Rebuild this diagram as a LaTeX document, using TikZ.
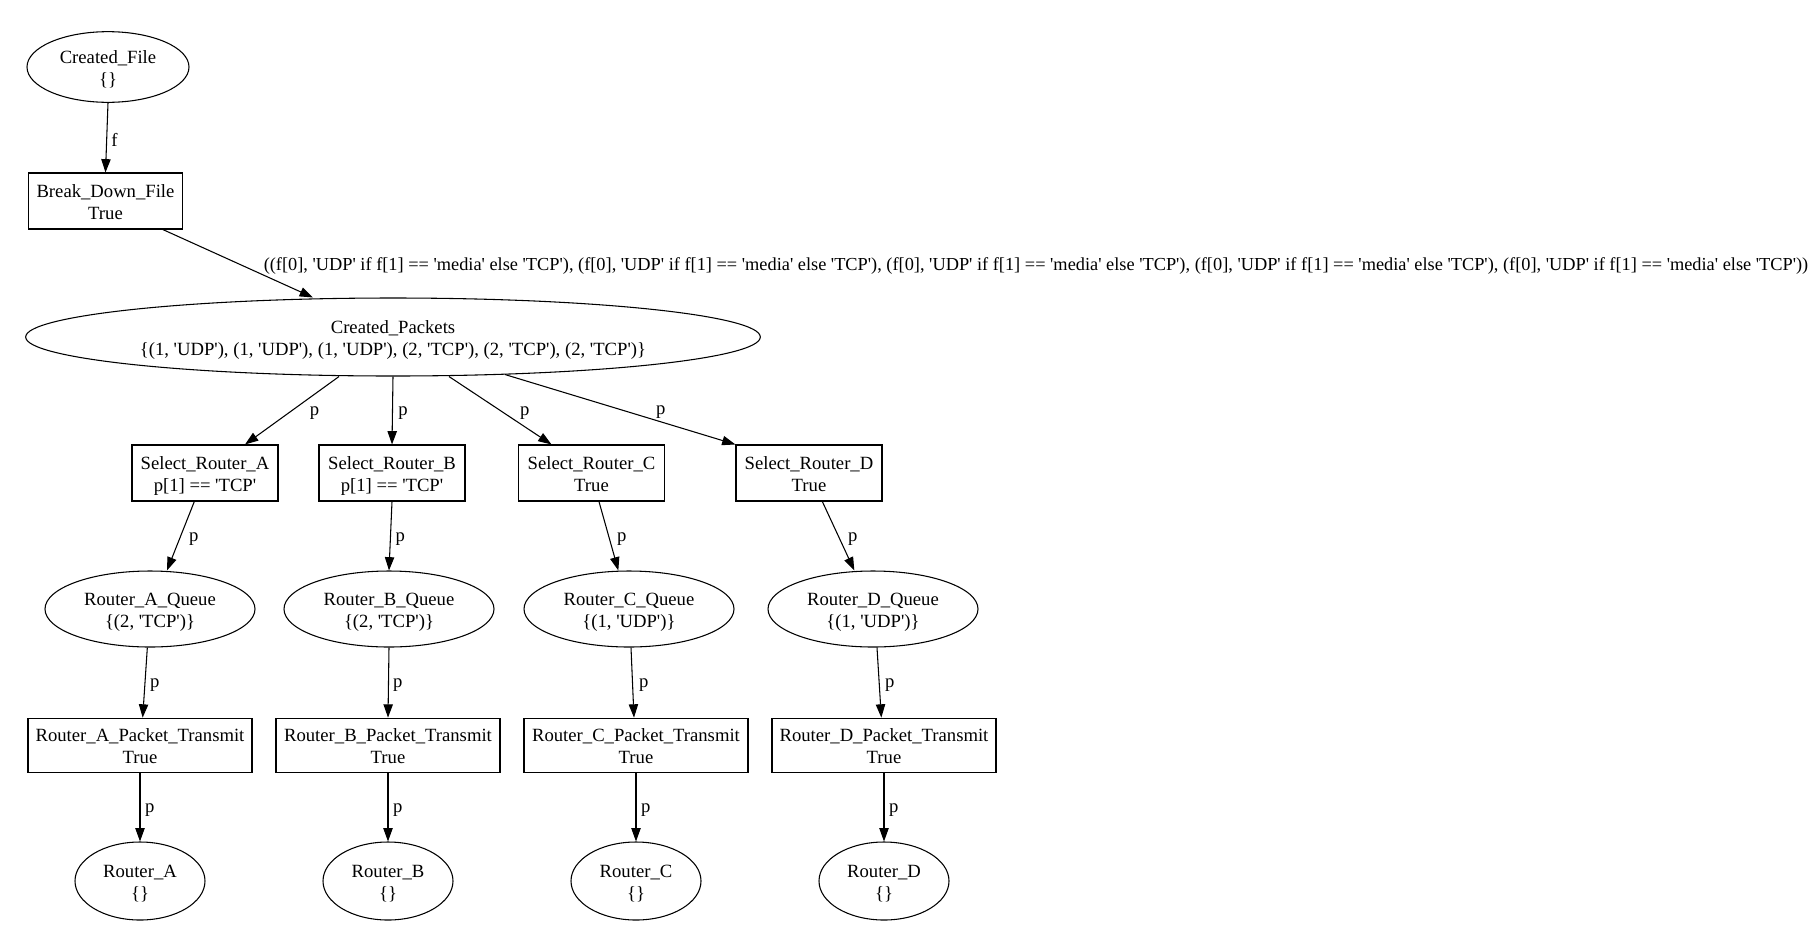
\documentclass[tikz,border=0pt]{standalone}
\usepackage{fontspec}
\setmainfont{Liberation Serif}[Ligatures=TeXOff]
\usetikzlibrary{arrows.meta,shapes.geometric}

\begin{document}
\begin{tikzpicture}[x=0.75pt, y=-0.75pt, line width=0.8pt,
    every node/.style={font=\fontsize{14}{16.5}\selectfont, align=center},
    placenode/.style={draw, ellipse, inner sep=0pt, text height=30pt, text depth=3pt},
    transnode/.style={draw, rectangle, inner sep=0pt, text height=30pt, text depth=3pt},
    arc/.style={-{Triangle[length=10pt, width=7pt]}},
    lbl/.style={anchor=west, inner sep=0pt, yshift=-2pt}]
  \useasboundingbox (0,0) rectangle (1820,947);
  \node[placenode, minimum width=121.5pt, minimum height=53pt] (cf) at (108,67) {Created\_File\\\{\}};
  \node[transnode, minimum width=116pt, minimum height=42pt] (bdf) at (105.5,201) {Break\_Down\_File\\True};
  \node[placenode, minimum width=551pt, minimum height=58.5pt] (cp) at (393,337) {Created\_Packets\\\{(1, 'UDP'), (1, 'UDP'), (1, 'UDP'), (2, 'TCP'), (2, 'TCP'), (2, 'TCP')\}};
  \node[transnode, minimum width=109.5pt, minimum height=42pt] (sA) at (205,473) {Select\_Router\_A\\p[1] == 'TCP'};
  \node[transnode, minimum width=109.5pt, minimum height=42pt] (sB) at (392,473) {Select\_Router\_B\\p[1] == 'TCP'};
  \node[transnode, minimum width=109.5pt, minimum height=42pt] (sC) at (591.5,473) {Select\_Router\_C\\True};
  \node[transnode, minimum width=109.5pt, minimum height=42pt] (sD) at (809,473) {Select\_Router\_D\\True};
  \node[placenode, minimum width=157.5pt, minimum height=57pt] (qA) at (150,609) {Router\_A\_Queue\\\{(2, 'TCP')\}};
  \node[placenode, minimum width=157.5pt, minimum height=57pt] (qB) at (389,609) {Router\_B\_Queue\\\{(2, 'TCP')\}};
  \node[placenode, minimum width=157.5pt, minimum height=57pt] (qC) at (629,609) {Router\_C\_Queue\\\{(1, 'UDP')\}};
  \node[placenode, minimum width=157.5pt, minimum height=57pt] (qD) at (873,609) {Router\_D\_Queue\\\{(1, 'UDP')\}};
  \node[transnode, minimum width=168pt, minimum height=41pt] (tA) at (140,745.5) {Router\_A\_Packet\_Transmit\\True};
  \node[transnode, minimum width=168pt, minimum height=41pt] (tB) at (388,745.5) {Router\_B\_Packet\_Transmit\\True};
  \node[transnode, minimum width=168pt, minimum height=41pt] (tC) at (636,745.5) {Router\_C\_Packet\_Transmit\\True};
  \node[transnode, minimum width=168pt, minimum height=41pt] (tD) at (884,745.5) {Router\_D\_Packet\_Transmit\\True};
  \node[placenode, minimum width=97.5pt, minimum height=58.5pt] (rA) at (140,881) {Router\_A\\\{\}};
  \node[placenode, minimum width=97.5pt, minimum height=58.5pt] (rB) at (388,881) {Router\_B\\\{\}};
  \node[placenode, minimum width=97.5pt, minimum height=58.5pt] (rC) at (636,881) {Router\_C\\\{\}};
  \node[placenode, minimum width=97.5pt, minimum height=58.5pt] (rD) at (884,881) {Router\_D\\\{\}};
  \draw[arc] (cf.south) -- (bdf.north) node[lbl, midway, xshift=3pt] {f};
  \draw[arc] ([xshift=43pt]bdf.south) -- ([xshift=-60pt]cp.north) node[lbl, midway, xshift=19pt, font=\fontsize{13.75}{16}\selectfont] {((f[0], 'UDP' if f[1] == 'media' else 'TCP'), (f[0], 'UDP' if f[1] == 'media' else 'TCP'), (f[0], 'UDP' if f[1] == 'media' else 'TCP'), (f[0], 'UDP' if f[1] == 'media' else 'TCP'), (f[0], 'UDP' if f[1] == 'media' else 'TCP'))};
  \draw[arc] ([xshift=-40.5pt]cp.south) -- ([xshift=30pt]sA.north) node[lbl, midway, xshift=13pt] {p};
  \draw[arc] (cp.south) -- (sB.north) node[lbl, midway, xshift=4pt] {p};
  \draw[arc] ([xshift=42pt]cp.south) -- ([xshift=-30pt]sC.north) node[lbl, midway, xshift=14.5pt] {p};
  \draw[arc] ([xshift=84pt, yshift=1.5pt]cp.south) -- (sD.north west) node[lbl, midway, xshift=26.5pt] {p};
  \draw[arc] ([xshift=-8pt]sA.south) -- ([xshift=12.75pt]qA.north) node[lbl, midway, xshift=6pt] {p};
  \draw[arc] (sB.south) -- (qB.north) node[lbl, midway, xshift=3.4pt] {p};
  \draw[arc] ([xshift=5.6pt]sC.south) -- ([xshift=-8pt]qC.north) node[lbl, midway, xshift=6pt] {p};
  \draw[arc] ([xshift=10pt]sD.south) -- ([xshift=-14pt]qD.north) node[lbl, midway, xshift=7pt] {p};
  \draw[arc] ([xshift=-2pt]qA.south) -- ([xshift=2pt]tA.north) node[lbl, midway, xshift=3.4pt] {p};
  \draw[arc] (qB.south) -- (tB.north) node[lbl, midway, xshift=3pt] {p};
  \draw[arc] ([xshift=1.5pt]qC.south) -- ([xshift=-1.5pt]tC.north) node[lbl, midway, xshift=4.5pt] {p};
  \draw[arc] ([xshift=3pt]qD.south) -- ([xshift=-2pt]tD.north) node[lbl, midway, xshift=4pt] {p};
  \draw[arc] (tA.south) -- (rA.north) node[lbl, midway, xshift=3.4pt] {p};
  \draw[arc] (tB.south) -- (rB.north) node[lbl, midway, xshift=3.4pt] {p};
  \draw[arc] (tC.south) -- (rC.north) node[lbl, midway, xshift=3.4pt] {p};
  \draw[arc] (tD.south) -- (rD.north) node[lbl, midway, xshift=3.4pt] {p};
\end{tikzpicture}
\end{document}
